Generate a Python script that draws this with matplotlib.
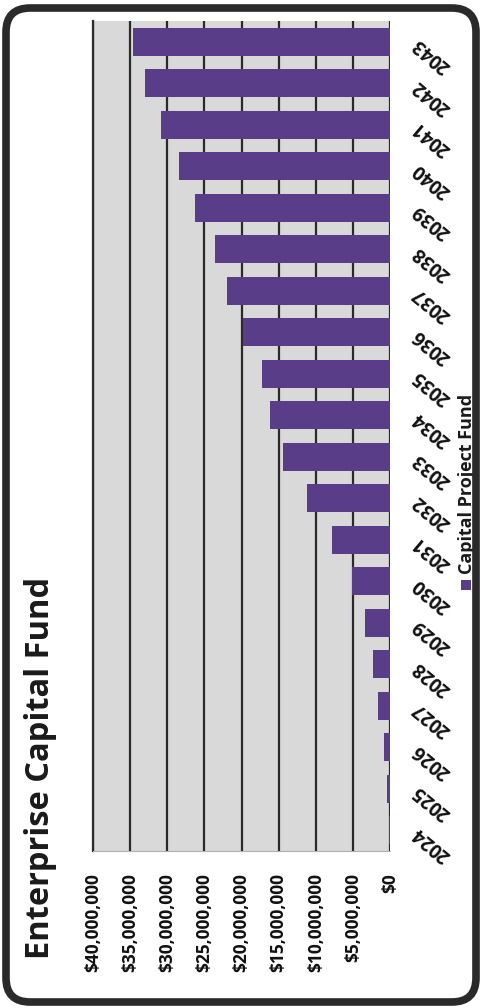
import matplotlib
matplotlib.use("Agg")
import matplotlib.pyplot as plt
import matplotlib.transforms as mtransforms
from matplotlib.patches import FancyBboxPatch, Rectangle

years = [str(y) for y in range(2024, 2044)]
capital_project_fund = [0.2e6, 0.45e6, 0.8e6, 1.6e6, 2.25e6, 3.4e6, 5.1e6, 7.85e6,
                        11.2e6, 14.45e6, 16.1e6, 17.3e6, 19.75e6, 22.0e6, 23.6e6,
                        26.3e6, 28.4e6, 30.8e6, 33.0e6, 34.65e6]
xticks = [0, 5e6, 10e6, 15e6, 20e6, 25e6, 30e6, 35e6, 40e6]
xtick_labels = ["$0", "$5,000,000", "$10,000,000", "$15,000,000", "$20,000,000",
                "$25,000,000", "$30,000,000", "$35,000,000", "$40,000,000"]
title = "Enterprise Capital Fund"
legend_label = "Capital Project Fund"

plt.rcParams['font.family'] = ['Open Sans', 'DejaVu Sans']
BAR = "#5a3d88"
BG = "#d9d9d9"

W, H = 482, 1008
fig = plt.figure(figsize=(W / 100, H / 100), dpi=100)
fig.patch.set_facecolor("white")

# outer rounded frame
frame = FancyBboxPatch((6 / W, 6 / H), (W - 12) / W, (H - 14) / H,
                       boxstyle="round,pad=0,rounding_size=0.05",
                       transform=fig.transFigure, facecolor="none",
                       edgecolor="#2a2a2a", linewidth=5.5, zorder=5,
                       mutation_aspect=W / H)
fig.patches.append(frame)

ax = fig.add_axes([93 / W, 1 - 851 / H, (390 - 93) / W, (851 - 21) / H])
ax.set_facecolor(BG)
pos = list(range(len(years)))
ax.barh(pos, capital_project_fund, height=0.67, color=BAR, zorder=3)
ax.set_xlim(40e6, 0)
ax.set_ylim(-0.5, len(years) - 0.5)

ax.set_xticks(xticks)
ax.set_xticklabels(xtick_labels, rotation=90, fontsize=12.5, fontweight="bold",
                   color="#111111")
ax.tick_params(axis="x", length=0, pad=16)
ax.grid(axis="x", color="#2a2a2a", linewidth=1.6, zorder=1)
ax.set_axisbelow(True)

ax.set_yticks(pos)
ax.set_yticklabels([])
ax.tick_params(axis="y", length=0, left=False, right=False)

# year labels, rotated like the scanned original
trans = mtransforms.blended_transform_factory(ax.transAxes, ax.transData)
for p, yr in zip(pos, years):
    ax.text(1.085, p, yr, transform=trans, rotation=140, rotation_mode="anchor",
            ha="right", va="center", fontsize=13.5, fontweight="bold",
            color="#111111", clip_on=False)

for side in ["top", "right"]:
    ax.spines[side].set_visible(False)
ax.spines["left"].set_color("#2a2a2a")
ax.spines["left"].set_linewidth(1.6)
ax.spines["bottom"].set_color("#b0b0b0")

fig.text(41 / W, 1 - 768 / H, title, rotation=90, ha="center", va="center",
         fontsize=23.5, fontweight="bold", color="#1a1a1a")

# legend
fig.patches.append(Rectangle(((466 - 5) / W, 1 - 590 / H), 10 / W, 10 / H,
                             transform=fig.transFigure, facecolor=BAR,
                             edgecolor="none"))
fig.text(467 / W, 1 - 574 / H, legend_label, rotation=90, ha="center",
         va="bottom", fontsize=13, fontweight="bold", color="#1a1a1a")

fig.savefig("out.png", dpi=100, facecolor="white")
